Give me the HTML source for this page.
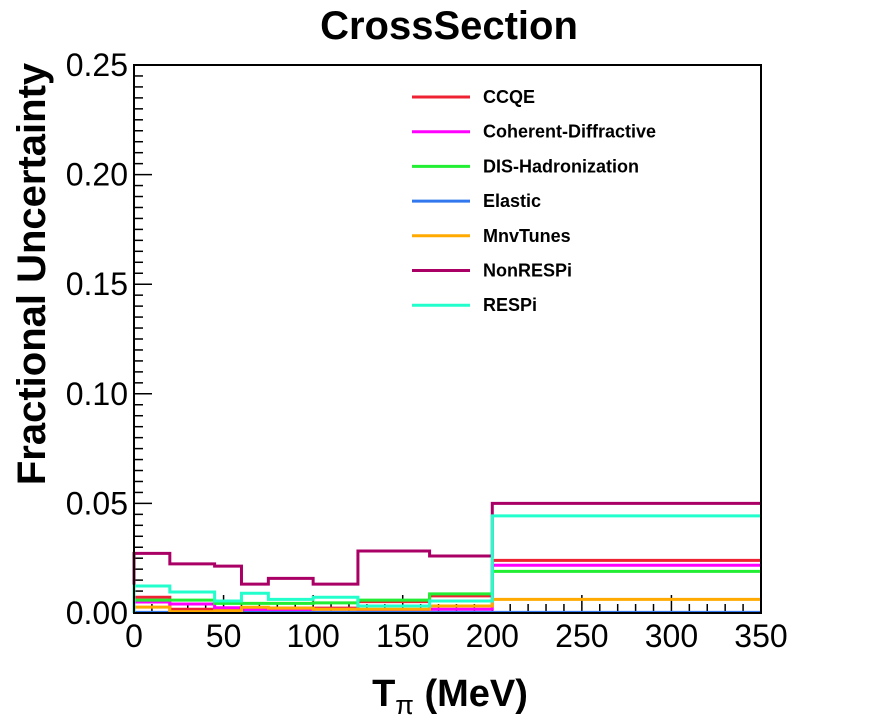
<!DOCTYPE html>
<html><head><meta charset="utf-8"><style>
body{margin:0;background:#fff;}
svg text{font-family:"Liberation Sans",sans-serif;}
</style></head><body>
<svg id="chart" width="896" height="722" xmlns="http://www.w3.org/2000/svg">
<rect width="896" height="722" fill="#fff"/>
<text x="449" y="39" text-anchor="middle" font-size="40" font-weight="bold">CrossSection</text>
<text transform="translate(45,274) rotate(-90)" text-anchor="middle" font-size="40" font-weight="bold">Fractional Uncertainty</text>
<text x="450" y="706" text-anchor="middle" font-size="38" font-weight="bold">T<tspan font-size="27" dy="8" font-weight="normal">π</tspan><tspan dy="-8"> (MeV)</tspan></text>
<g id="axes"></g>
<g id="series"></g>
<rect x="134" y="65" width="627" height="548" fill="none" stroke="#000" stroke-width="2"/>
<g id="legend"></g>
</svg>
<script>
const edges=[0,20,45,60,75,100,125,165,200,350];
const seriesNames=["CCQE","Coherent-Diffractive","DIS-Hadronization","Elastic","MnvTunes","NonRESPi","RESPi"];
const seriesColors=["#ee2233","#ff00ff","#22ee33","#3377ee","#ffaa00","#aa0066","#22ffcc"];
const ccqe=[0.0072,0.0017,0.0017,0.0023,0.0022,0.0022,0.0052,0.0078,0.024];
const coherent=[0.005,0.0041,0.0024,0.0014,0.0014,0.0017,0.0014,0.0017,0.0218];
const dis=[0.0059,0.0059,0.0044,0.0044,0.0044,0.0046,0.0059,0.0087,0.019];
const elastic=[0.0003,0.0003,0.0003,0.0003,0.0003,0.0003,0.0003,0.0003,0.0003];
const mnvtunes=[0.0027,0.0006,0.001,0.0026,0.0022,0.0017,0.0017,0.0032,0.0062];
const nonrespi=[0.0272,0.0224,0.0214,0.0132,0.0158,0.0132,0.0283,0.026,0.050];
const respi=[0.0123,0.0096,0.0055,0.009,0.0062,0.0072,0.0032,0.0055,0.0443];
const allSeries=[ccqe,coherent,dis,elastic,mnvtunes,nonrespi,respi];
const xTicks=[0,50,100,150,200,250,300,350];
const yTicks=[0,0.05,0.10,0.15,0.20,0.25];
const yTickLabels=["0.00","0.05","0.10","0.15","0.20","0.25"];
const X0=134,X1=761,Y0=613,Y1=65;
const xs=v=>X0+(v/350)*(X1-X0);
const ys=v=>Y0-(v/0.25)*(Y0-Y1);
const NS="http://www.w3.org/2000/svg";
function mk(t,a){const e=document.createElementNS(NS,t);for(const k in a)e.setAttribute(k,a[k]);return e;}
const ax=document.getElementById('axes');
for(let v=0;v<=350;v+=10){const major=v%50===0;
 const l=mk('line',{x1:xs(v),x2:xs(v),y1:Y0,y2:Y0-(major?18:9),stroke:'#000','stroke-width':1.5});
 
 
 ax.appendChild(l);}
xTicks.forEach(v=>{const t=mk('text',{x:xs(v),y:647,'text-anchor':'middle','font-size':32});t.textContent=v;
 
 
 ax.appendChild(t);});
for(let i=0;i<=50;i++){const v=i*0.005;const major=i%10===0;
 const l=mk('line',{x1:X0,x2:X0+(major?18:9),y1:ys(v),y2:ys(v),stroke:'#000','stroke-width':1.5});
 
 
 ax.appendChild(l);}
yTicks.forEach((v,i)=>{const t=mk('text',{x:128,y:ys(v)+11,'text-anchor':'end','font-size':32});t.textContent=yTickLabels[i];
 
 
 ax.appendChild(t);});
const sg=document.getElementById('series');
allSeries.forEach((vals,si)=>{let d='M'+xs(edges[0])+','+ys(0);
 vals.forEach((v,i)=>{d+=' L'+xs(edges[i])+','+ys(v)+' L'+xs(edges[i+1])+','+ys(v);});
 const p=mk('path',{d:d,fill:'none',stroke:seriesColors[si],'stroke-width':3});
 
 
 sg.appendChild(p);});
const lg=document.getElementById('legend');
seriesNames.forEach((n,i)=>{const y=97+i*34.7;
 const g=mk('g',{});
 
 
 g.appendChild(mk('line',{x1:412,x2:470,y1:y,y2:y,stroke:seriesColors[i],'stroke-width':3}));
 const t=mk('text',{x:483,y:y+6,'font-size':18,'font-weight':'bold'});t.textContent=n;g.appendChild(t);
 lg.appendChild(g);});
</script>
</body></html>
